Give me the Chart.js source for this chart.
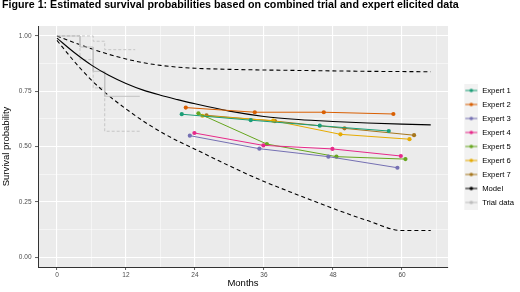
<!DOCTYPE html>
<html>
<head>
<meta charset="utf-8">
<script src="https://cdn.jsdelivr.net/npm/chart.js@4.4.1/dist/chart.umd.min.js"></script>
<style>
  body { margin: 0; background: #fff; }
  #wrap { width: 520px; height: 292px; }
</style>
</head>
<body>
<div id="wrap"><canvas id="survChart" width="520" height="292"></canvas></div>
<script>
// expert elicited values (months, survival)
const expertNames = ['Expert 1', 'Expert 2', 'Expert 3', 'Expert 4', 'Expert 5', 'Expert 6', 'Expert 7'];
const expertColors = ['#1B9E77', '#D95F02', '#7570B3', '#E7298A', '#66A61E', '#E6AB02', '#A6761D'];
const expertMonths = [
    [21.7, 33.7, 45.7, 57.7],
    [22.4, 34.4, 46.4, 58.5],
    [23.1, 35.2, 47.2, 59.2],
    [23.9, 35.9, 47.9, 59.8],
    [24.6, 36.5, 48.6, 60.6],
    [25.3, 37.6, 49.3, 61.3],
    [26.0, 37.9, 50.0, 62.1]
];
const expertSurv = [
    [0.646, 0.619, 0.594, 0.570],
    [0.676, 0.655, 0.655, 0.647],
    [0.549, 0.490, 0.454, 0.404],
    [0.561, 0.505, 0.489, 0.457],
    [0.650, 0.511, 0.454, 0.443],
    [0.639, 0.617, 0.555, 0.533],
    [0.641, 0.615, 0.582, 0.551]
];

// fitted model with interval
const modelMonths = [0, 3, 6, 9, 12, 15, 18, 21, 24, 30, 36, 42, 48, 54, 60, 65];
const modelSurv   = [0.99, 0.925, 0.868, 0.822, 0.785, 0.755, 0.732, 0.712, 0.693, 0.66, 0.636, 0.622, 0.613, 0.606, 0.601, 0.598];
const modelUpper  = [1.0, 0.97, 0.942, 0.917, 0.896, 0.879, 0.867, 0.859, 0.854, 0.849, 0.846, 0.844, 0.842, 0.840, 0.839, 0.838];
const modelLower  = [0.98, 0.885, 0.80, 0.73, 0.67, 0.615, 0.567, 0.525, 0.488, 0.412, 0.342, 0.28, 0.22, 0.165, 0.12, 0.12];

// trial Kaplan-Meier with confidence limits
const trialMonths      = [0, 4, 4, 6.3, 6.3, 8.3, 8.3, 14.4];
const trialKM          = [1.0, 1.0, 0.95, 0.95, 0.84, 0.84, 0.727, 0.727];
const trialUpperMonths = [0, 6.3, 6.3, 8.3, 8.3, 13.6];
const trialUpper       = [1.0, 1.0, 0.976, 0.976, 0.938, 0.938];
const trialLowerMonths = [0, 4, 4, 6.3, 6.3, 8.3, 8.3, 14.4];
const trialLower       = [1.0, 1.0, 0.893, 0.893, 0.765, 0.765, 0.569, 0.569];

const xTicks = [0, 6, 12, 18, 24, 30, 36, 42, 48, 54, 60, 66];
const xLabels = [0, 12, 24, 36, 48, 60];
const yTicks = [0, 0.125, 0.25, 0.375, 0.5, 0.625, 0.75, 0.875, 1];
const yLabels = [0, 0.25, 0.5, 0.75, 1];

const FONT = "'Liberation Sans', Arial, sans-serif";
const trialGrey = '#C2C2C2';

const pts = (xs, ys) => xs.map((x, i) => ({ x: x, y: ys[i] }));
const isMajor = (v, list) => list.some(t => Math.abs(t - v) < 1e-6);

function keyImage(color) {
    const c = document.createElement('canvas');
    c.width = 24; c.height = 14;
    const g = c.getContext('2d');
    g.fillStyle = '#F2F2F2';
    g.fillRect(10, 0, 14, 14);
    g.strokeStyle = color;
    g.lineWidth = 1;
    g.beginPath(); g.moveTo(11, 7); g.lineTo(23, 7); g.stroke();
    g.fillStyle = color;
    g.beginPath(); g.arc(17, 7, 1.8, 0, Math.PI * 2); g.fill();
    return c;
}

const datasets = expertNames.map((name, i) => ({
    label: name,
    data: pts(expertMonths[i], expertSurv[i]),
    borderColor: expertColors[i],
    backgroundColor: expertColors[i],
    borderWidth: 1,
    pointRadius: 2.1,
    pointBorderWidth: 0,
    keyColor: expertColors[i]
}));

datasets.push(
    {
        label: 'Model',
        data: pts(modelMonths, modelSurv),
        borderColor: '#000',
        borderWidth: 1.1,
        pointRadius: 0,
        cubicInterpolationMode: 'monotone',
        keyColor: '#000'
    },
    {
        label: 'Trial data',
        data: pts(trialMonths, trialKM),
        borderColor: trialGrey,
        borderWidth: 1,
        pointRadius: 0,
        keyColor: '#BDBDBD'
    },
    {
        label: 'upper',
        data: pts(modelMonths, modelUpper),
        borderColor: '#000',
        borderWidth: 1.1,
        borderDash: [4, 3],
        pointRadius: 0,
        cubicInterpolationMode: 'monotone',
        noLegend: true
    },
    {
        label: 'lower',
        data: pts(modelMonths, modelLower),
        borderColor: '#000',
        borderWidth: 1.1,
        borderDash: [4, 3],
        pointRadius: 0,
        cubicInterpolationMode: 'monotone',
        noLegend: true
    },
    {
        label: 'trial upper',
        data: pts(trialUpperMonths, trialUpper),
        borderColor: trialGrey,
        borderWidth: 0.9,
        borderDash: [3, 2],
        pointRadius: 0,
        noLegend: true
    },
    {
        label: 'trial lower',
        data: pts(trialLowerMonths, trialLower),
        borderColor: trialGrey,
        borderWidth: 0.9,
        borderDash: [3, 2],
        pointRadius: 0,
        noLegend: true
    }
);

const keyCache = {};
datasets.forEach((ds, i) => { if (!ds.noLegend) keyCache[i] = keyImage(ds.keyColor); });

const panelBg = {
    id: 'panelBg',
    beforeDraw(chart) {
        const a = chart.chartArea;
        const ctx = chart.ctx;
        ctx.save();
        ctx.fillStyle = '#EBEBEB';
        ctx.fillRect(a.left, a.top, a.right - a.left, a.bottom - a.top);
        ctx.restore();
    }
};

const legendWidth = {
    id: 'legendWidth',
    beforeLayout(chart) {
        const lg = chart.legend;
        if (lg && !lg._fixed) {
            const fit = lg.fit.bind(lg);
            lg.fit = function () { fit(); this.width = 72; };
            lg._fixed = true;
        }
    }
};

new Chart(document.getElementById('survChart').getContext('2d'), {
    type: 'line',
    data: { datasets: datasets },
    plugins: [panelBg, legendWidth],
    options: {
        responsive: false,
        animation: false,
        devicePixelRatio: 1,
        layout: { padding: { left: 2, right: 0, top: 0, bottom: 0 } },
        scales: {
            x: {
                type: 'linear',
                min: -3.3,
                max: 68,
                afterBuildTicks: s => { s.ticks = xTicks.map(v => ({ value: v })); },
                afterFit: s => { s.height = 25; },
                ticks: {
                    autoSkip: false,
                    maxRotation: 0,
                    padding: 1,
                    color: '#4D4D4D',
                    font: { family: FONT, size: 6.5 },
                    callback: v => isMajor(v, xLabels) ? String(v) : ''
                },
                grid: {
                    color: '#FFFFFF',
                    lineWidth: c => isMajor(c.tick.value, xLabels) ? 1.1 : 0.5,
                    tickLength: 3,
                    tickColor: c => isMajor(c.tick.value, xLabels) ? '#333333' : 'rgba(0,0,0,0)',
                    tickWidth: 0.8
                },
                border: { display: true, color: '#333333', width: 1 },
                title: {
                    display: true,
                    text: 'Months',
                    color: '#000',
                    font: { family: FONT, size: 9.5 },
                    padding: { top: 0, bottom: 3.3 }
                }
            },
            y: {
                min: -0.045,
                max: 1.045,
                afterBuildTicks: s => { s.ticks = yTicks.map(v => ({ value: v })); },
                afterFit: s => { s.width = 36; },
                ticks: {
                    autoSkip: false,
                    padding: 3.5,
                    color: '#4D4D4D',
                    font: { family: FONT, size: 6.5 },
                    callback: v => isMajor(v, yLabels) ? v.toFixed(2) : ''
                },
                grid: {
                    color: '#FFFFFF',
                    lineWidth: c => isMajor(c.tick.value, yLabels) ? 1.1 : 0.5,
                    tickLength: 3,
                    tickColor: c => isMajor(c.tick.value, yLabels) ? '#333333' : 'rgba(0,0,0,0)',
                    tickWidth: 0.8
                },
                border: { display: true, color: '#333333', width: 1 },
                title: {
                    display: true,
                    text: 'Survival probability',
                    color: '#000',
                    font: { family: FONT, size: 9.5 },
                    padding: { top: -1.5, bottom: 0 }
                }
            }
        },
        plugins: {
            title: {
                display: true,
                text: 'Figure 1: Estimated survival probabilities based on combined trial and expert elicited data',
                align: 'start',
                color: '#000',
                font: { family: FONT, size: 10.7, weight: 'bold', lineHeight: 1 },
                padding: { top: 0, bottom: 15.3 }
            },
            legend: {
                position: 'right',
                align: 'center',
                fullSize: false,
                labels: {
                    usePointStyle: true,
                    pointStyleWidth: 24,
                    padding: 6.3,
                    color: '#1A1A1A',
                    font: { family: FONT, size: 7.7 },
                    generateLabels: chart => chart.data.datasets
                        .map((ds, i) => ({
                            text: ds.label,
                            datasetIndex: i,
                            pointStyle: keyCache[i],
                            fillStyle: ds.keyColor,
                            strokeStyle: ds.keyColor,
                            lineWidth: 0,
                            hidden: false
                        }))
                        .filter(item => !chart.data.datasets[item.datasetIndex].noLegend)
                }
            },
            tooltip: { enabled: false }
        }
    }
});
</script>
</body>
</html>
